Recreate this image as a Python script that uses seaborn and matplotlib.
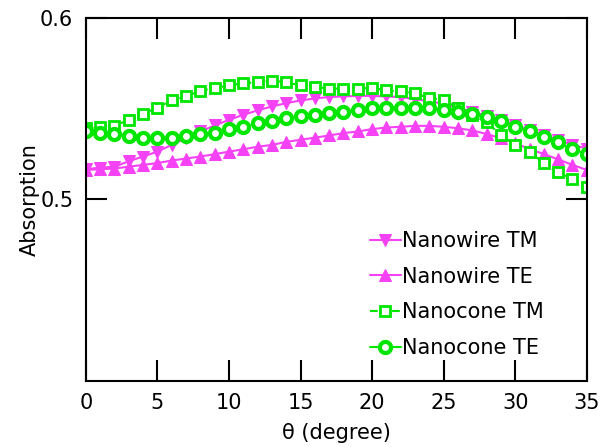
import numpy as np
import pandas as pd
import matplotlib
matplotlib.use('Agg')
import matplotlib.pyplot as plt
import seaborn as sns

# 数据
theta = list(range(0, 36))

nanowire_tm = [0.5166, 0.5175, 0.518, 0.521, 0.5236, 0.5263, 0.530, 0.5337, 0.5374, 0.5407,
               0.5438, 0.5466, 0.549, 0.5512, 0.553, 0.5545, 0.5556, 0.5564, 0.5567, 0.557,
               0.557, 0.5567, 0.5564, 0.5552, 0.554, 0.5527, 0.5503, 0.5484, 0.546, 0.5438,
               0.541, 0.5383, 0.5355, 0.5328, 0.530, 0.528]
nanowire_te = [0.5162, 0.5166, 0.517, 0.518, 0.519, 0.520, 0.5214, 0.5225, 0.5236, 0.5249,
               0.5263, 0.5276, 0.529, 0.530, 0.5317, 0.5328, 0.534, 0.5352, 0.5365, 0.5374,
               0.5387, 0.5396, 0.540, 0.5405, 0.5405, 0.540, 0.5392, 0.538, 0.536, 0.5337,
               0.531, 0.5276, 0.525, 0.522, 0.519, 0.5162]
nanocone_tm = [0.5392, 0.5398, 0.5405, 0.5438, 0.547, 0.5506, 0.5545, 0.5567, 0.5598, 0.5613,
               0.5628, 0.564, 0.5645, 0.5654, 0.5645, 0.5628, 0.562, 0.561, 0.561, 0.561,
               0.5615, 0.560, 0.5595, 0.5586, 0.5556, 0.555, 0.5503, 0.5464, 0.5425, 0.5355,
               0.530, 0.526, 0.520, 0.515, 0.511, 0.507]
nanocone_te = [0.5374, 0.5365, 0.536, 0.535, 0.534, 0.5337, 0.534, 0.535, 0.536, 0.5368,
               0.5389, 0.5398, 0.542, 0.5433, 0.5448, 0.5457, 0.5466, 0.5475, 0.5484, 0.5494,
               0.5503, 0.5506, 0.5506, 0.5506, 0.5503, 0.5494, 0.548, 0.547, 0.5453, 0.543,
               0.540, 0.5374, 0.5346, 0.5315, 0.5276, 0.525]

labels = ['Nanowire TM', 'Nanowire TE', 'Nanocone TM', 'Nanocone TE']

pink = '#F542F5'
green = '#00E600'

sns.set_style('white')
plt.rcParams['font.family'] = ['DejaVu Sans']
plt.rcParams['text.color'] = 'black'
plt.rcParams['axes.labelcolor'] = 'black'
plt.rcParams['xtick.color'] = 'black'
plt.rcParams['ytick.color'] = 'black'

fig = plt.figure(figsize=(6, 4.47), dpi=100)
ax = fig.add_axes([0.143, 0.148, 0.835, 0.812])

# 纳米线
sns.lineplot(x=theta, y=nanowire_tm, ax=ax, color=pink, lw=1.5, marker='v',
             markersize=9, markeredgecolor=pink, label=labels[0])
sns.lineplot(x=theta, y=nanowire_te, ax=ax, color=pink, lw=1.5, marker='^',
             markersize=9, markeredgecolor=pink, label=labels[1])
# 纳米锥
sns.lineplot(x=theta, y=nanocone_tm, ax=ax, color=green, lw=1.5, linestyle='--',
             marker='s', markersize=6.5, markerfacecolor='white', markeredgecolor=green,
             markeredgewidth=2, label=labels[2])
sns.lineplot(x=theta, y=nanocone_te, ax=ax, color=green, lw=1.5, marker='o',
             markersize=8, markerfacecolor='white', markeredgecolor=green,
             markeredgewidth=3, label=labels[3])

ax.set_xlim(0, 35)
ax.set_ylim(0.4, 0.6)
ax.set_xticks([0, 5, 10, 15, 20, 25, 30, 35])
ax.set_yticks([0.5, 0.6])
ax.set_yticklabels(['0.5', '0.6'])

ax.tick_params(axis='both', direction='in', length=15, width=1.5, labelsize=15,
               top=True, right=True, bottom=True, left=True, pad=9)

for spine in ax.spines.values():
    spine.set_visible(True)
    spine.set_color('black')
    spine.set_linewidth(1.5)

ax.set_xlabel('θ (degree)', fontsize=15, labelpad=7)
ax.set_ylabel('Absorption', fontsize=15, labelpad=0)

ax.legend(loc='lower right', bbox_to_anchor=(0.96, 0.0), frameon=False,
          fontsize=15, handlelength=1.5, handletextpad=0.05, labelspacing=0.75,
          borderaxespad=0.7)

plt.savefig('out.png', dpi=100, facecolor='white')
